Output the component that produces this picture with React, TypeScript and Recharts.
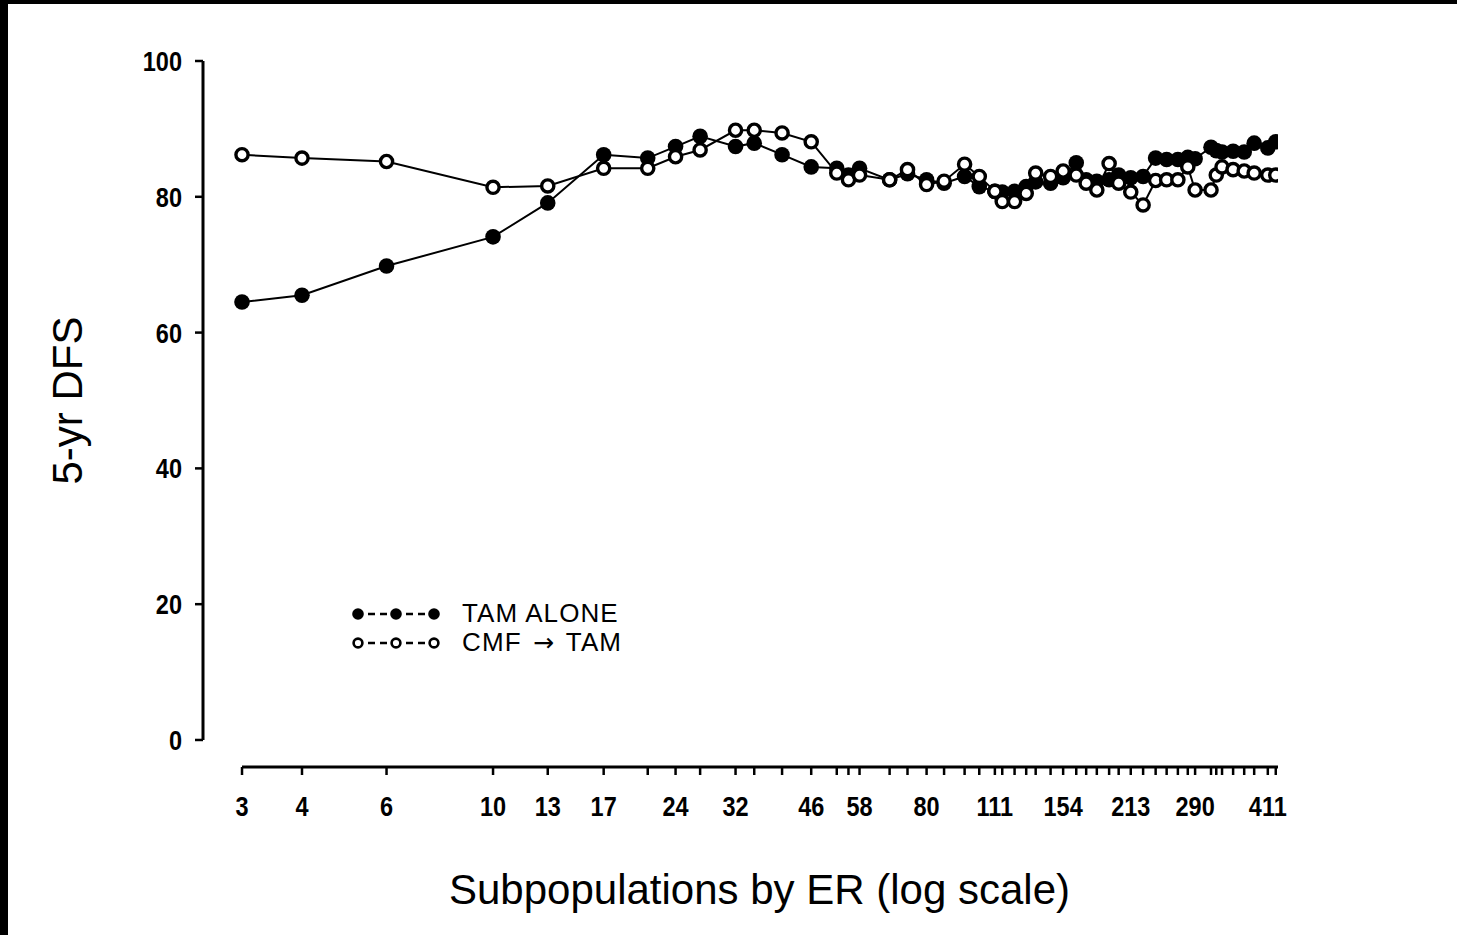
import React from 'react';
import { LineChart, Line, XAxis, YAxis, ReferenceLine, Legend } from 'recharts';

// ER subpopulation cut-points (x, log scale)
const ER_VALUES = [3, 4, 6, 10, 13, 17, 21, 24, 27, 32, 35, 40, 46, 52, 55, 58, 67, 73, 80, 87,
  96, 103, 111, 115, 122, 129, 135, 145, 154, 164, 172, 181, 192, 201, 213,
  226, 240, 253, 267, 280, 290, 313, 321, 330, 348, 367, 385, 411, 427];

// 5-yr DFS, TAM alone (filled circles)
const TAM_ALONE = [64.5, 65.5, 69.8, 74.1, 79.1, 86.2, 85.7, 87.4, 88.9, 87.4, 87.9, 86.2, 84.4, 84.2, 83.2, 84.2, 82.5, 83.4, 82.5, 82.0,
  83.0, 81.5, 80.8, 80.7, 80.8, 81.5, 82.2, 82.0, 82.8, 85.0, 82.5, 82.3, 82.5, 83.2, 82.8,
  83.0, 85.7, 85.5, 85.5, 85.8, 85.6, 87.3, 86.8, 86.6, 86.7, 86.6, 87.9, 87.2, 88.1];

// 5-yr DFS, CMF -> TAM (open circles)
const CMF_TAM = [86.2, 85.7, 85.2, 81.4, 81.6, 84.2, 84.2, 85.9, 86.9, 89.8, 89.8, 89.4, 88.1, 83.5, 82.5, 83.2, 82.5, 84.0, 81.8, 82.3,
  84.8, 83.0, 80.8, 79.3, 79.3, 80.5, 83.5, 83.0, 83.8, 83.2, 82.0, 81.0, 84.9, 82.0, 80.7,
  78.8, 82.4, 82.5, 82.5, 84.4, 81.0, 81.0, 83.2, 84.4, 84.0, 83.8, 83.5, 83.2, 83.2];

// labelled x ticks
const X_LABELS = [3, 4, 6, 10, 13, 17, 24, 32, 46, 58, 80, 111, 154, 213, 290, 411];
const Y_TICKS = [0, 20, 40, 60, 80, 100];

const X_DOMAIN: [number, number] = [2.488, 431.6];
const Y_DOMAIN: [number, number] = [-3.98, 100];

const data = ER_VALUES.map((x, i) => ({ x, tam: TAM_ALONE[i], cmf: CMF_TAM[i] }));

const FONT_SANS = "'Liberation Sans', Arial, Helvetica, sans-serif";
const NARROW = 0.84;

const FilledDot = (props: any) => {
  const { cx, cy } = props;
  if (cx == null || cy == null) return null;
  return <circle cx={cx} cy={cy} r={7.8} fill="#000" />;
};

const OpenDot = (props: any) => {
  const { cx, cy } = props;
  if (cx == null || cy == null) return null;
  return <circle cx={cx} cy={cy} r={6.1} fill="#fff" stroke="#000" strokeWidth={3.4} />;
};

const XTick = (props: any) => {
  const { x, y, payload } = props;
  const v = payload?.value;
  if (!X_LABELS.includes(v)) return null;
  return (
    <text
      transform={`translate(${x},${y}) scale(${NARROW},1)`}
      x={0}
      y={0}
      dy="0.72em"
      textAnchor="middle"
      fontFamily={FONT_SANS}
      fontWeight={700}
      fontSize={28}
      fill="#000"
    >
      {String(v)}
    </text>
  );
};

const YTick = (props: any) => {
  const { x, y, payload } = props;
  return (
    <text
      transform={`translate(${x},${y}) scale(${NARROW},1)`}
      x={0}
      y={0}
      dy="0.36em"
      textAnchor="end"
      fontFamily={FONT_SANS}
      fontWeight={700}
      fontSize={28}
      fill="#000"
    >
      {String(payload?.value)}
    </text>
  );
};

const LegendSymbol = ({ filled }: { filled: boolean }) => {
  const xs = [8, 46, 84];
  return (
    <svg width={92} height={22} style={{ display: 'block' }}>
      <line x1={15} y1={11} x2={39} y2={11} stroke="#000" strokeWidth={2.5} strokeDasharray="7 5" strokeDashoffset={-3} />
      <line x1={53} y1={11} x2={77} y2={11} stroke="#000" strokeWidth={2.5} strokeDasharray="7 5" strokeDashoffset={-3} />
      {xs.map((x) =>
        filled ? (
          <circle key={x} cx={x} cy={11} r={5.8} fill="#000" />
        ) : (
          <circle key={x} cx={x} cy={11} r={4.4} fill="#fff" stroke="#000" strokeWidth={2.6} />
        )
      )}
    </svg>
  );
};

const ROW_H = 29;

const renderLegend = () => (
  <div style={{ fontFamily: FONT_SANS, fontSize: 26, color: '#000', letterSpacing: '1.1px' }}>
    <div style={{ display: 'flex', alignItems: 'center', height: ROW_H }}>
      <LegendSymbol filled />
      <span style={{ marginLeft: 20, lineHeight: `${ROW_H}px`, whiteSpace: 'nowrap' }}>TAM ALONE</span>
    </div>
    <div style={{ display: 'flex', alignItems: 'center', height: ROW_H }}>
      <LegendSymbol filled={false} />
      <span style={{ marginLeft: 20, lineHeight: `${ROW_H}px`, whiteSpace: 'nowrap' }}>
        CMF <span style={{ fontFamily: "'DejaVu Sans', sans-serif", fontSize: 25, margin: '0 3px' }}>{'\u2192'}</span> TAM
      </span>
    </div>
  </div>
);

const XTitle = (props: any) => {
  const vb = props.viewBox || {};
  return (
    <text
      x={vb.x + vb.width / 2 + 19}
      y={vb.y + 137}
      textAnchor="middle"
      fontFamily={FONT_SANS}
      fontSize={42}
      fill="#000"
    >
      Subpopulations by ER (log scale)
    </text>
  );
};

const YTitle = (props: any) => {
  const vb = props.viewBox || {};
  const x = vb.x - 61;
  const y = vb.y + vb.height / 2 - 13.5;
  return (
    <text
      x={x}
      y={y}
      transform={`rotate(-90, ${x}, ${y})`}
      textAnchor="middle"
      fontFamily={FONT_SANS}
      fontSize={42}
      fill="#000"
    >
      5-yr DFS
    </text>
  );
};

export default function App() {
  return (
    <div style={{ position: 'absolute', left: 0, top: 0, width: 1457, height: 935, background: '#fff', overflow: 'hidden' }}>
      <div style={{ position: 'absolute', left: 0, top: 0, width: 1457, height: 4, background: '#000' }} />
      <div style={{ position: 'absolute', left: 0, top: 0, width: 8, height: 935, background: '#000' }} />
      <div style={{ position: 'absolute', left: 0, top: 0 }}>
        <LineChart
          width={1457}
          height={935}
          data={data}
          margin={{ top: 61, right: 179, bottom: 108, left: 143 }}
        >
          <XAxis
            dataKey="x"
            type="number"
            scale="log"
            domain={X_DOMAIN}
            allowDataOverflow
            ticks={ER_VALUES}
            interval={0}
            axisLine={false}
            tickLine={{ stroke: '#000', strokeWidth: 2.5 }}
            tickSize={8}
            tickMargin={21}
            height={60}
            tick={<XTick />}
            label={<XTitle />}
          />
          <YAxis
            type="number"
            domain={Y_DOMAIN}
            allowDataOverflow
            ticks={Y_TICKS}
            interval={0}
            axisLine={false}
            tickLine={{ stroke: '#000', strokeWidth: 2.5 }}
            tickSize={8}
            tickMargin={13}
            width={60}
            tick={<YTick />}
            label={<YTitle />}
          />
          <ReferenceLine
            segment={[{ x: X_DOMAIN[0], y: 0 }, { x: X_DOMAIN[0], y: 100 }]}
            stroke="#000"
            strokeWidth={3}
            ifOverflow="visible"
          />
          <ReferenceLine
            segment={[{ x: ER_VALUES[0], y: Y_DOMAIN[0] }, { x: X_DOMAIN[1], y: Y_DOMAIN[0] }]}
            stroke="#000"
            strokeWidth={3}
            ifOverflow="visible"
          />
          <Legend
            layout="vertical"
            align="center"
            verticalAlign="middle"
            content={renderLegend}
            wrapperStyle={{ left: 350, top: 599, width: 320, height: 2 * ROW_H }}
          />
          <Line
            dataKey="tam"
            name="TAM ALONE"
            stroke="#000"
            strokeWidth={2}
            dot={<FilledDot />}
            activeDot={false}
            isAnimationActive={false}
          />
          <Line
            dataKey="cmf"
            name="CMF → TAM"
            stroke="#000"
            strokeWidth={2}
            dot={<OpenDot />}
            activeDot={false}
            isAnimationActive={false}
          />
        </LineChart>
      </div>
    </div>
  );
}
